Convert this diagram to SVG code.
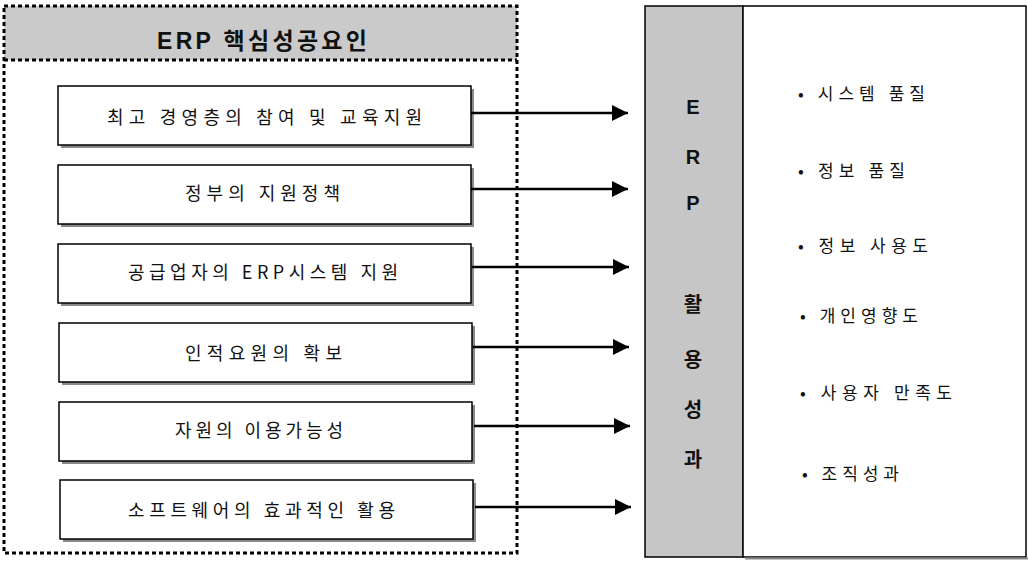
<svg xmlns="http://www.w3.org/2000/svg" width="1028" height="561" viewBox="0 0 1028 561">
<style>
.dot{fill:none;stroke:#000;stroke-width:3;stroke-dasharray:4 3}
.box{fill:#fff;stroke:#000;stroke-width:1.5}
.shadow{fill:#8a8a8a}
.lbl{font-family:"Noto Sans CJK KR","Liberation Sans",sans-serif;font-size:18px;fill:#111}
.item{font-family:"Noto Sans CJK KR","Liberation Sans",sans-serif;font-size:17px;fill:#111}
.col{font-family:"Liberation Sans","Noto Sans CJK KR",sans-serif;font-size:20px;font-weight:bold;fill:#111;text-anchor:middle}
.title{font-family:"Liberation Sans","Noto Sans CJK KR",sans-serif;font-size:23px;font-weight:bold;fill:#111}
.conn{stroke:#000;stroke-width:2.5;fill:none}
</style>
<defs>
<marker id="ah" markerWidth="16" markerHeight="16" refX="16" refY="8" orient="auto" markerUnits="userSpaceOnUse">
<path d="M0,0 L16,8 L0,16 Z" fill="#000"/>
</marker>
</defs>
<rect width="1028" height="561" fill="#fff"/>
<g id="factors-frame">
<rect x="4" y="6" width="513" height="54" fill="#cacaca"/>
<rect x="4" y="6" width="513" height="547" class="dot"/>
<line x1="4" y1="60" x2="517" y2="60" class="dot"/>
<text x="157" y="49" class="title" textLength="210" lengthAdjust="spacing">ERP 핵심성공요인</text>
</g>
<g id="f1">
<rect x="61" y="89" width="413" height="59" class="shadow"/>
<rect x="58" y="86" width="413" height="59" class="box"/>
<text x="107" y="124" class="lbl" textLength="315" lengthAdjust="spacing">최고 경영층의 참여 및 교육지원</text>
</g>
<g id="f2">
<rect x="61" y="168" width="413" height="59" class="shadow"/>
<rect x="58" y="165" width="413" height="59" class="box"/>
<text x="185" y="200" class="lbl" textLength="155" lengthAdjust="spacing">정부의 지원정책</text>
</g>
<g id="f3">
<rect x="61" y="247" width="413" height="59" class="shadow"/>
<rect x="58" y="244" width="413" height="59" class="box"/>
<text x="128" y="279" class="lbl" textLength="270" lengthAdjust="spacing">공급업자의 ERP시스템 지원</text>
</g>
<g id="f4">
<rect x="62" y="326" width="413" height="59" class="shadow"/>
<rect x="59" y="323" width="413" height="59" class="box"/>
<text x="185" y="360" class="lbl" textLength="157" lengthAdjust="spacing">인적요원의 확보</text>
</g>
<g id="f5">
<rect x="62" y="405" width="413" height="59" class="shadow"/>
<rect x="59" y="402" width="413" height="59" class="box"/>
<text x="175" y="437" class="lbl" textLength="168" lengthAdjust="spacing">자원의 이용가능성</text>
</g>
<g id="f6">
<rect x="63" y="483" width="413" height="59" class="shadow"/>
<rect x="60" y="480" width="413" height="59" class="box"/>
<text x="128" y="517" class="lbl" textLength="267" lengthAdjust="spacing">소프트웨어의 효과적인 활용</text>
</g>
<g id="outcome-column">
<rect x="645" y="6" width="98" height="551" fill="#c6c6c6" stroke="#000" stroke-width="1.5"/>
<text x="693" y="114" class="col">E</text>
<text x="693" y="164" class="col">R</text>
<text x="693" y="210" class="col">P</text>
<text x="693" y="312" class="col">활</text>
<text x="693" y="367" class="col">용</text>
<text x="693" y="417" class="col">성</text>
<text x="693" y="467" class="col">과</text>
</g>
<g id="outcome-list">
<rect x="743" y="6" width="283" height="551" fill="#fff" stroke="#000" stroke-width="1.5"/>
<line x1="745" y1="558.5" x2="1028" y2="558.5" stroke="#8a8a8a" stroke-width="2"/>
<text x="798" y="100" class="item" textLength="127" lengthAdjust="spacing">• 시스템 품질</text>
<text x="798" y="177" class="item" textLength="107" lengthAdjust="spacing">• 정보 품질</text>
<text x="798" y="252" class="item" textLength="130" lengthAdjust="spacing">• 정보 사용도</text>
<text x="800" y="322" class="item" textLength="118" lengthAdjust="spacing">• 개인영향도</text>
<text x="800" y="399" class="item" textLength="152" lengthAdjust="spacing">• 사용자 만족도</text>
<text x="802" y="480" class="item" textLength="97" lengthAdjust="spacing">• 조직성과</text>
</g>
<g id="connectors">
<line x1="471" y1="113" x2="628" y2="113" class="conn" marker-end="url(#ah)"/>
<line x1="471" y1="189" x2="628" y2="189" class="conn" marker-end="url(#ah)"/>
<line x1="472" y1="267" x2="629" y2="267" class="conn" marker-end="url(#ah)"/>
<line x1="473" y1="347" x2="629" y2="347" class="conn" marker-end="url(#ah)"/>
<line x1="474" y1="426" x2="630" y2="426" class="conn" marker-end="url(#ah)"/>
<line x1="475" y1="507" x2="631" y2="507" class="conn" marker-end="url(#ah)"/>
</g>
</svg>
